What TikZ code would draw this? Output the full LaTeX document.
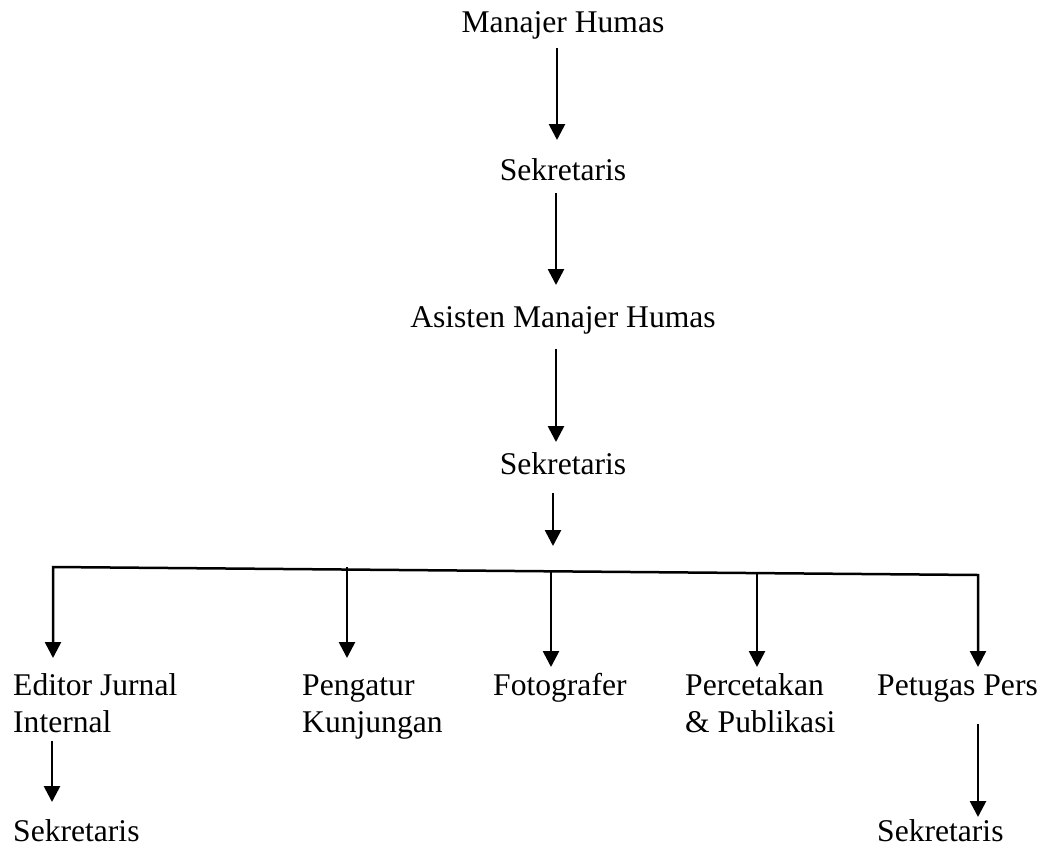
\documentclass[tikz,border=0pt]{standalone}
\usepackage{fontspec}
\setmainfont{Liberation Serif}
\usetikzlibrary{arrows.meta,calc}
\begin{document}
\begin{tikzpicture}[x=1pt,y=-1pt,
  lbl/.style={inner sep=0pt,font=\fontsize{31.6}{37}\selectfont},
  arr/.style={line width=2.7pt,-{Triangle[width=16pt,length=16pt]}},
  busarr/.style={line width=2.5pt,line join=miter,{Triangle[width=16pt,length=16pt]}-{Triangle[width=16pt,length=16pt]}}]
\useasboundingbox (0,0) rectangle (1042,846);
% nodes
\node[lbl,anchor=base] (mh) at (563,32) {Manajer Humas};
\node[lbl,anchor=base] (s1) at (563,180) {Sekretaris};
\node[lbl,anchor=base] (as) at (563,327) {Asisten Manajer Humas};
\node[lbl,anchor=base] (s2) at (563,474) {Sekretaris};
\node[lbl,anchor=base west] (ej) at (13,695) {\begin{tabular}[t]{@{}l@{}}Editor Jurnal\\Internal\end{tabular}};
\node[lbl,anchor=base west] (pk) at (302,695) {\begin{tabular}[t]{@{}l@{}}Pengatur\\Kunjungan\end{tabular}};
\node[lbl,anchor=base west] (fg) at (493,695) {Fotografer};
\node[lbl,anchor=base west] (pc) at (685,695) {\begin{tabular}[t]{@{}l@{}}Percetakan\\\& Publikasi\end{tabular}};
\node[lbl,anchor=base west] (pp) at (877,695) {Petugas Pers};
\node[lbl,anchor=base west] (s3) at (13,841) {Sekretaris};
\node[lbl,anchor=base west] (s4) at (877,841) {Sekretaris};
% bus coordinates
\coordinate (busL) at ($(ej.base west)+(40,-128)$);
\coordinate (busR) at ($(pp.base west)+(101,-120)$);
\coordinate (busin) at ($(s2.base)+(-10,72)$);
% vertical chain
\draw[arr] ($(mh.base)+(-6,16)$) -- ($(s1.base)+(-6,-40)$);
\draw[arr] ($(s1.base)+(-7,13)$) -- ($(as.base)+(-7,-42)$);
\draw[arr] ($(as.base)+(-7,22)$) -- ($(s2.base)+(-7,-32)$);
\draw[arr] ($(s2.base)+(-10,19)$) -- (busin);
% bus with outer branches
\draw[busarr] ($(ej.base west)+(40,-37)$) -- (busL) -- (busR) -- ($(pp.base west)+(101,-28)$);
% inner branches
\draw[arr] ($(pk.base west)+(45,-128)$) -- ($(pk.base west)+(45,-37)$);
\draw[arr] ($(fg.base west)+(58,-123)$) -- ($(fg.base west)+(58,-28)$);
\draw[arr] ($(pc.base west)+(72,-121)$) -- ($(pc.base west)+(72,-28)$);
% sub branches
\draw[arr] ($(ej.base west)+(39,46)$) -- ($(s3.base west)+(39,-39)$);
\draw[arr] ($(pp.base west)+(101,29)$) -- ($(s4.base west)+(101,-24)$);
\end{tikzpicture}
\end{document}
